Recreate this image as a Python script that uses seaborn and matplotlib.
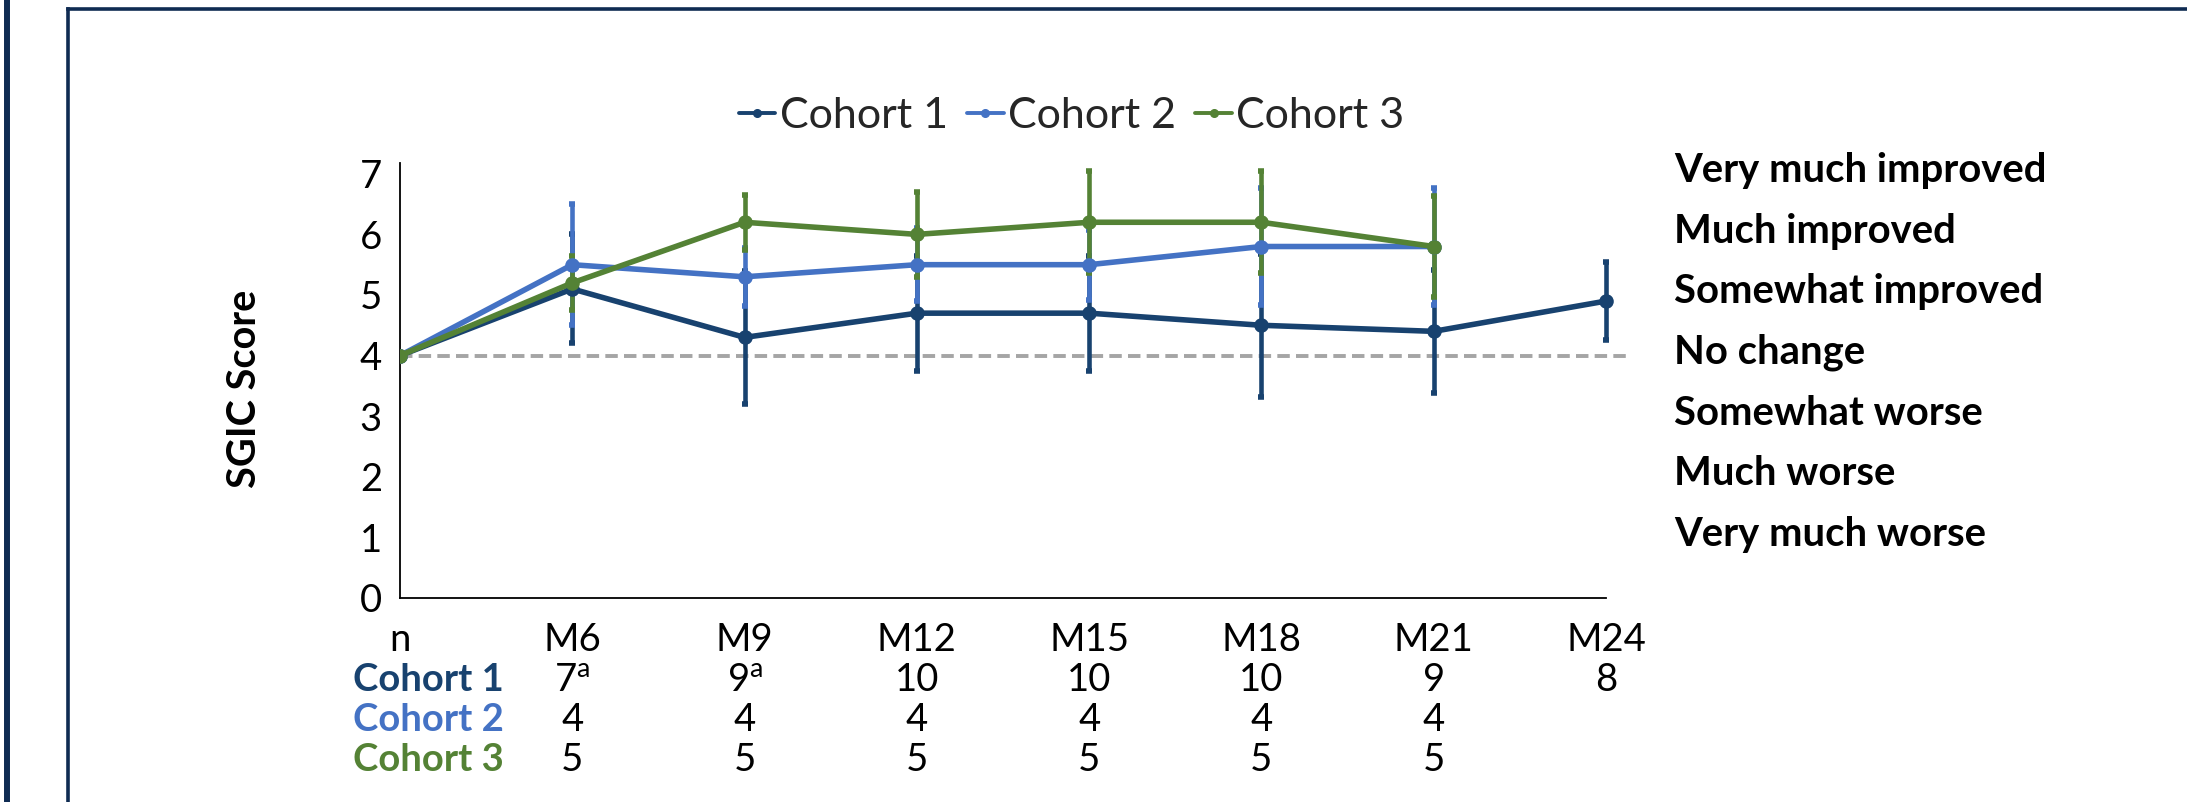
import numpy as np
import pandas as pd
import matplotlib
matplotlib.use('Agg')
import matplotlib.pyplot as plt
import seaborn as sns
from matplotlib.lines import Line2D

# ---------------- data ----------------
categories = ['n', 'M6', 'M9', 'M12', 'M15', 'M18', 'M21', 'M24']
cohorts = ['Cohort 1', 'Cohort 2', 'Cohort 3']
cohort1_mean = [4.0, 5.1, 4.3, 4.7, 4.7, 4.5, 4.4, 4.9]
cohort1_err = [0.0, 0.9, 1.1, 0.95, 0.95, 1.18, 1.02, 0.64]
cohort2_mean = [4.0, 5.5, 5.3, 5.5, 5.5, 5.8, 5.8]
cohort2_err = [0.0, 1.0, 0.48, 0.6, 0.58, 0.96, 0.96]
cohort3_mean = [4.0, 5.2, 6.2, 6.0, 6.2, 6.2, 5.8]
cohort3_err = [0.0, 0.45, 0.45, 0.7, 0.84, 0.84, 0.84]
cohort1_n = ['7$^{\\mathrm{a}}$', '9$^{\\mathrm{a}}$', '10', '10', '10', '9', '8']
cohort2_n = ['4', '4', '4', '4', '4', '4']
cohort3_n = ['5', '5', '5', '5', '5', '5']
scale_labels = ['Very much improved', 'Much improved', 'Somewhat improved',
                'No change', 'Somewhat worse', 'Much worse', 'Very much worse']
scale_values = [7, 6, 5, 4, 3, 2, 1]
y_label = 'SGIC Score'

colors = ['#18426F', '#4472C4', '#548235']
border_color = '#0F2B52'

# ---------------- style ----------------
sns.set_theme(style='white')
plt.rcParams['font.family'] = ['Lato', 'DejaVu Sans']
plt.rcParams['mathtext.fontset'] = 'custom'
plt.rcParams['mathtext.rm'] = 'Lato'
plt.rcParams['mathtext.it'] = 'Lato'

FS = 27.5

means = [cohort1_mean, cohort2_mean, cohort3_mean]
errs = [cohort1_err, cohort2_err, cohort3_err]
rows = []
for name, m, e in zip(cohorts, means, errs):
    for i, (mv, ev) in enumerate(zip(m, e)):
        rows.append({'x': i, 'score': mv, 'err': ev, 'cohort': name})
df = pd.DataFrame(rows)

fig = plt.figure(figsize=(21.87, 8.02), dpi=100)
ax = fig.add_axes([0.1829, 0.2544, 0.5617, 0.5425])

# reference line at "No change"
ax.axhline(4, color='#A5A5A5', lw=2.8, dashes=(3.2, 1.6), zorder=1)

sns.lineplot(data=df, x='x', y='score', hue='cohort', hue_order=cohorts,
             palette=colors, marker='o', markersize=10.5, markeredgewidth=0,
             linewidth=4.0, legend=False, ax=ax, sort=False, errorbar=None,
             zorder=3)

for k, (name, col) in enumerate(zip(cohorts, colors)):
    sub = df[(df['cohort'] == name) & (df['x'] > 0)]
    ax.errorbar(sub['x'], sub['score'], yerr=sub['err'], fmt='none',
                ecolor=col, elinewidth=3.3, capsize=2.4, capthick=4.0,
                zorder=2.5 + 0.1 * k)

# axes styling
ax.set_xlim(0, 7.13)
ax.set_ylim(0, 7.18)
ax.set_xticks(range(len(categories)))
ax.set_xticklabels(categories)
ax.set_yticks(range(0, 8))
for s in ['top', 'right']:
    ax.spines[s].set_visible(False)
for s in ['left', 'bottom']:
    ax.spines[s].set_color('black')
    ax.spines[s].set_linewidth(1.3)
ax.spines['bottom'].set_bounds(0, 7)
ax.tick_params(axis='both', direction='out', length=5, width=1.3,
               color='black', labelsize=FS, labelcolor='black')
ax.tick_params(axis='y', pad=8)
ax.tick_params(axis='x', pad=12)
ax.set_xlabel('')
ax.set_ylabel('')
ax.grid(False)

# y label
fig.text(244 / 2187, 1 - 389 / 802, y_label, rotation=90, ha='center',
         va='center', fontsize=28.5, fontweight='bold', color='black')

# right-side scale labels
for lab, v in zip(scale_labels, scale_values):
    ax.text(7.394, v + 0.05, lab, ha='left', va='center', fontsize=28.8,
            fontweight='bold', color='black', clip_on=False)

# n table below the axis
row_y = [-1.54, -2.20, -2.86]
row_vals = [cohort1_n, cohort2_n, cohort3_n]
for name, col, yy, vals in zip(cohorts, colors, row_y, row_vals):
    ax.text(0.165, yy, name, ha='center', va='baseline', fontsize=FS,
            fontweight='bold', color=col, clip_on=False)
    for i, v in enumerate(vals):
        ax.text(i + 1, yy, v, ha='center', va='baseline', fontsize=FS,
                color='black', clip_on=False)

# legend
handles = [Line2D([0], [0], color=c, lw=2.8, marker='o', markersize=5.5)
           for c in colors]
fig.legend(handles, cohorts, loc='center', bbox_to_anchor=(0.49, 0.855),
           ncol=3, frameon=False, fontsize=31, handlelength=0.85,
           handletextpad=0.1, columnspacing=0.45)

# decorative border lines
fig.add_artist(Line2D([7 / 2187, 7 / 2187], [0, 1], transform=fig.transFigure,
                      color=border_color, lw=4.3, solid_capstyle='butt'))
fig.add_artist(Line2D([67.5 / 2187, 67.5 / 2187], [0, 1 - 9 / 802],
                      transform=fig.transFigure, color=border_color, lw=2.6,
                      solid_capstyle='projecting'))
fig.add_artist(Line2D([67.5 / 2187, 1], [1 - 9 / 802, 1 - 9 / 802],
                      transform=fig.transFigure, color=border_color, lw=2.6,
                      solid_capstyle='projecting'))

fig.savefig('out.png', dpi=100)
